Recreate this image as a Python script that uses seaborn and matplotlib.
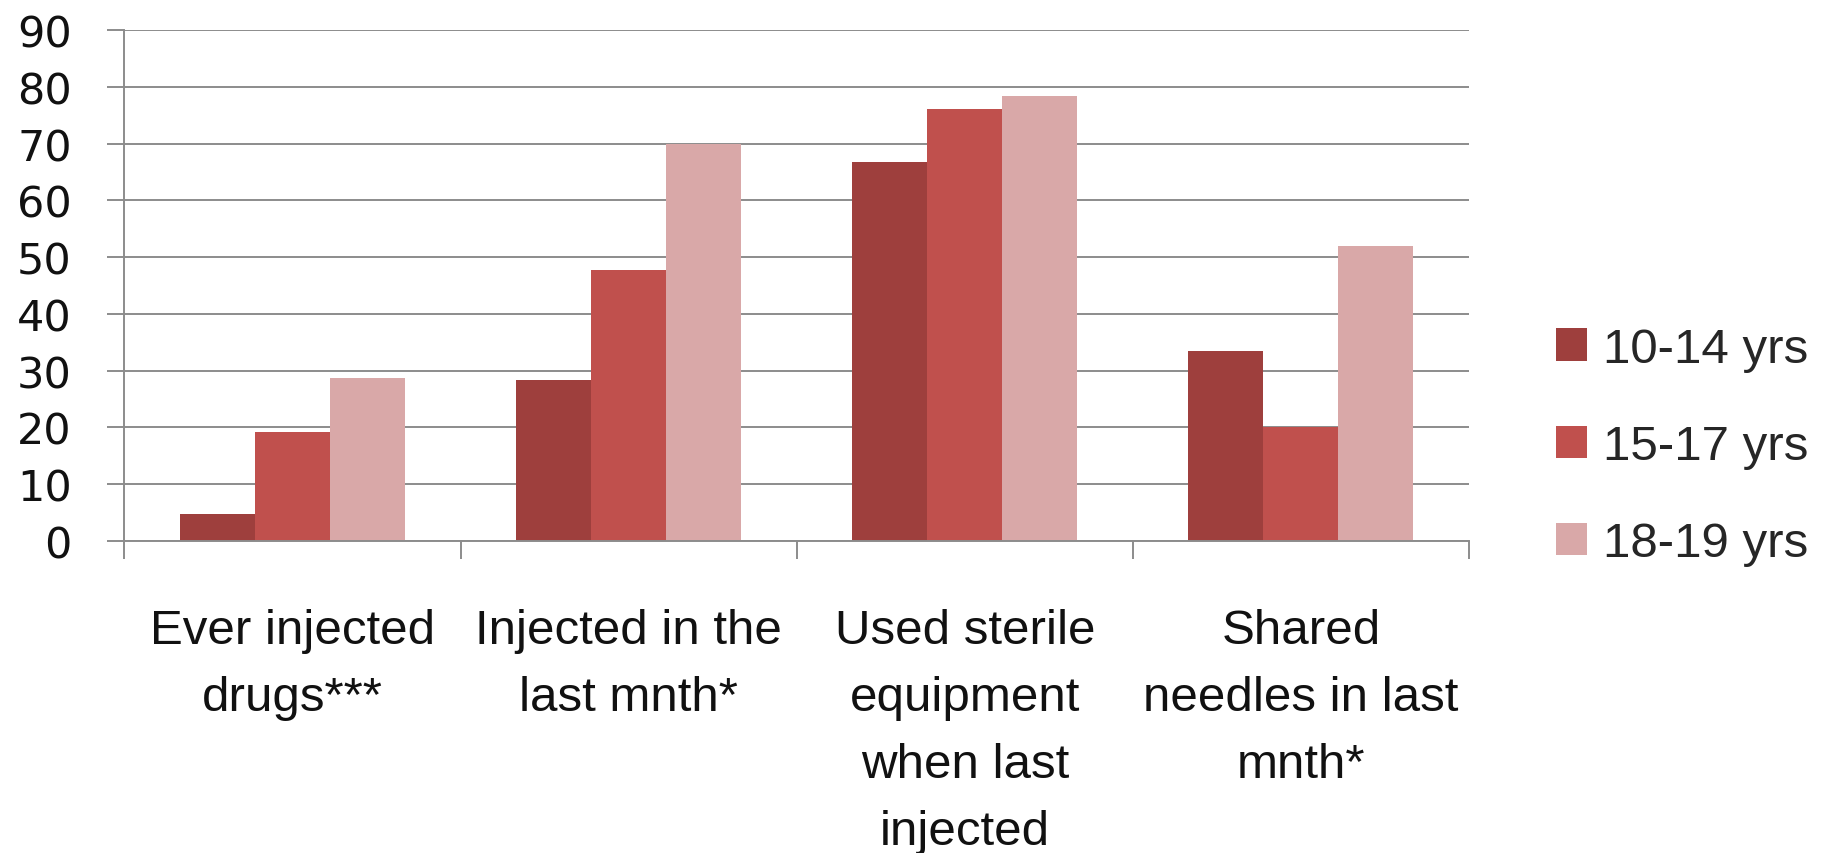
"""Injecting behaviour by age group, grouped bar chart."""

import matplotlib

matplotlib.use("Agg")
import matplotlib.pyplot as plt
import pandas as pd
import seaborn as sns

categories = [
    "Ever injected\ndrugs***",
    "Injected in the\nlast mnth*",
    "Used sterile\nequipment\nwhen last\ninjected",
    "Shared\nneedles in last\nmnth*",
]
age_groups = ["10-14 yrs", "15-17 yrs", "18-19 yrs"]
values_10_14 = [4.8, 28.3, 66.7, 33.4]
values_15_17 = [19.2, 47.8, 76.1, 20.0]
values_18_19 = [28.8, 70.0, 78.3, 52.0]
y_ticks = [0, 10, 20, 30, 40, 50, 60, 70, 80, 90]

colors = ["#9E3F3D", "#C0504D", "#D9A8A8"]
grid_color = "#8C8C8C"

rows = []
for group, vals in zip(age_groups, [values_10_14, values_15_17, values_18_19]):
    for cat, v in zip(categories, vals):
        rows.append({"category": cat, "group": group, "value": v})
df = pd.DataFrame(rows)

sns.set_style("white")
plt.rcParams["font.family"] = ["Liberation Sans", "DejaVu Sans"]

fig = plt.figure(figsize=(18.25, 8.54), dpi=100)
ax = fig.add_axes([0.0682, 0.3653, 0.7367, 0.5984])

sns.barplot(
    data=df, x="category", y="value", hue="group", order=categories,
    hue_order=age_groups, palette=colors, width=0.67, saturation=1,
    errorbar=None, linewidth=0, ax=ax,
)

ax.set_xlim(-0.5, len(categories) - 0.5)
ax.set_ylim(0, 90)
ax.set_yticks(y_ticks)
ax.set_axisbelow(True)
ax.yaxis.grid(True, color=grid_color, linewidth=1.4)
ax.xaxis.grid(False)
ax.set_xlabel("")
ax.set_ylabel("")

for side in ["top", "right"]:
    ax.spines[side].set_visible(False)
for side in ["left", "bottom"]:
    ax.spines[side].set_color(grid_color)
    ax.spines[side].set_linewidth(1.4)

ax.tick_params(axis="y", direction="out", length=11.9, width=1.4, color=grid_color,
               pad=26, labelsize=31, left=True)
for lab in ax.get_yticklabels():
    lab.set_family("DejaVu Sans")
    lab.set_color("#111111")

ax.set_xticks(range(len(categories)))
ax.set_xticklabels(categories, fontsize=35.5, color="#111111", linespacing=1.63)
ax.tick_params(axis="x", which="major", length=0, pad=48)
ax.set_xticks([i - 0.5 for i in range(len(categories) + 1)], minor=True)
ax.tick_params(axis="x", which="minor", direction="out", length=12.6, width=1.4,
               color=grid_color, bottom=True)

handles, labels = ax.get_legend_handles_labels()
ax.get_legend().remove()
fig.legend(
    handles, labels, loc="center left", bbox_to_anchor=(0.8526, 0.476),
    frameon=False, fontsize=35.5, handlelength=0.63, handleheight=0.63,
    handletextpad=0.33, labelspacing=1.06, borderpad=0, borderaxespad=0,
)

fig.savefig("out.png", dpi=100)
